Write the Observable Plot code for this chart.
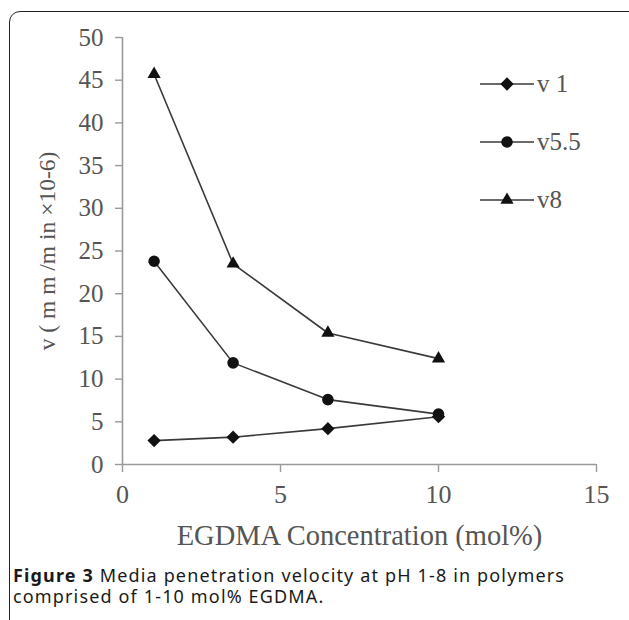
<!DOCTYPE html>
<html>
<head>
<meta charset="utf-8">
<script src="https://cdn.jsdelivr.net/npm/d3@7"></script>
<script src="https://cdn.jsdelivr.net/npm/@observablehq/plot@0.6"></script>
<style>
  html, body { margin: 0; padding: 0; background: #fff; }
  #wrap { position: relative; width: 629px; height: 620px; overflow: hidden; }
  #frame { position: absolute; left: 9px; top: 11px; width: 640px; height: 640px;
           border: 1.6px solid #222; border-radius: 11px; box-sizing: border-box; }
  #chart { position: absolute; left: 0; top: 0; }
  #legend { position: absolute; left: 0; top: 0; width: 629px; height: 560px; pointer-events: none; }
  .leg { position: absolute; display: flex; align-items: center; font-family: "Liberation Serif", serif;
         font-size: 25px; color: #555; }
  #caption { position: absolute; left: 13px; top: 565px; width: 600px; font-family: "Noto Sans", sans-serif;
             font-size: 18px; letter-spacing: 1.15px; line-height: 20.5px; color: #1a1a1a; }
  #caption b { font-weight: 700; }
</style>
</head>
<body>
<div id="wrap">
  <div id="frame"></div>
  <div id="chart"></div>
  <div id="legend"></div>
  <div id="caption"><b>Figure 3</b> Media penetration velocity at pH 1-8 in polymers comprised of 1-10 mol% EGDMA.</div>
</div>
<script>
// Data
const concentration = [1, 3.5, 6.5, 10];
const seriesNames = ["v 1", "v5.5", "v8"];
const v1 = [2.8, 3.2, 4.2, 5.6];
const v55 = [23.8, 11.9, 7.6, 5.9];
const v8 = [45.7, 23.5, 15.4, 12.4];
const xTicks = [0, 5, 10, 15];
const yTicks = [0, 5, 10, 15, 20, 25, 30, 35, 40, 45, 50];
const xTitle = "EGDMA Concentration (mol%)";
const yTitle = "v ( m m /m in ×10-6)";

const symbols = {"v 1": "diamond2", "v5.5": "circle", "v8": "triangle"};
const radii = {"v 1": 6, "v5.5": 5.8, "v8": 4.9};
const allValues = [v1, v55, v8];
const data = [];
seriesNames.forEach((s, i) => concentration.forEach((c, j) => data.push({series: s, x: c, y: allValues[i][j]})));

const serif = "'Liberation Serif', 'Times New Roman', serif";
const plot = Plot.plot({
  width: 629,
  height: 560,
  marginLeft: 122,
  marginRight: 33,
  marginTop: 37,
  marginBottom: 96,
  style: {background: "transparent", fontFamily: serif},
  x: {domain: [0, 15]},
  y: {domain: [0, 50]},
  r: {type: "identity"},
  symbol: {type: "identity"},
  marks: [
    Plot.ruleX([0], {stroke: "#9a9a9a", strokeWidth: 1.6}),
    Plot.ruleY([0], {stroke: "#9a9a9a", strokeWidth: 1.6}),
    Plot.axisY({ticks: yTicks, tickSize: 7, tickPadding: 12, stroke: "#9a9a9a", strokeWidth: 1.4,
      fontSize: 25, fill: "#555", label: yTitle, labelAnchor: "center", labelArrow: "none", labelOffset: 84,
      strokeOpacity: 1}),
    Plot.axisX({ticks: xTicks, tickSize: 8, tickPadding: 12, stroke: "#9a9a9a", strokeWidth: 1.4,
      fontSize: 26, fill: "#555", label: null, strokeOpacity: 1}),
    Plot.text([xTitle], {frameAnchor: "bottom", dy: 80, fontSize: 28.5, fill: "#555", fontFamily: serif}),
    Plot.line(data, {x: "x", y: "y", z: "series", stroke: "#3a3a3a", strokeWidth: 1.6}),
    Plot.dot(data, {x: "x", y: "y", symbol: d => symbols[d.series], r: d => radii[d.series], fill: "#111", stroke: "none"})
  ]
});
// y-axis title font size
plot.querySelectorAll("g[aria-label='y-axis label'] text").forEach(t => t.setAttribute("font-size", 23.5));
document.getElementById("chart").appendChild(plot);

// Legend
const legend = document.getElementById("legend");
const legendTops = [84, 142, 200];
const symMap = {diamond2: d3.symbolDiamond2, circle: d3.symbolCircle, triangle: d3.symbolTriangle};
seriesNames.forEach((s, i) => {
  const row = document.createElement("div");
  row.className = "leg";
  row.style.left = "480px";
  row.style.top = (legendTops[i] - 16) + "px";
  row.style.height = "32px";
  const r = radii[s];
  const path = d3.symbol(symMap[symbols[s]], Math.PI * r * r)();
  row.innerHTML = `<svg width="54" height="32" style="margin-right:3px"><line x1="0" x2="54" y1="16" y2="16" stroke="#3a3a3a" stroke-width="1.6"/><path d="${path}" transform="translate(27,16)" fill="#111"/></svg><span>${s}</span>`;
  legend.appendChild(row);
});
</script>
</body>
</html>
